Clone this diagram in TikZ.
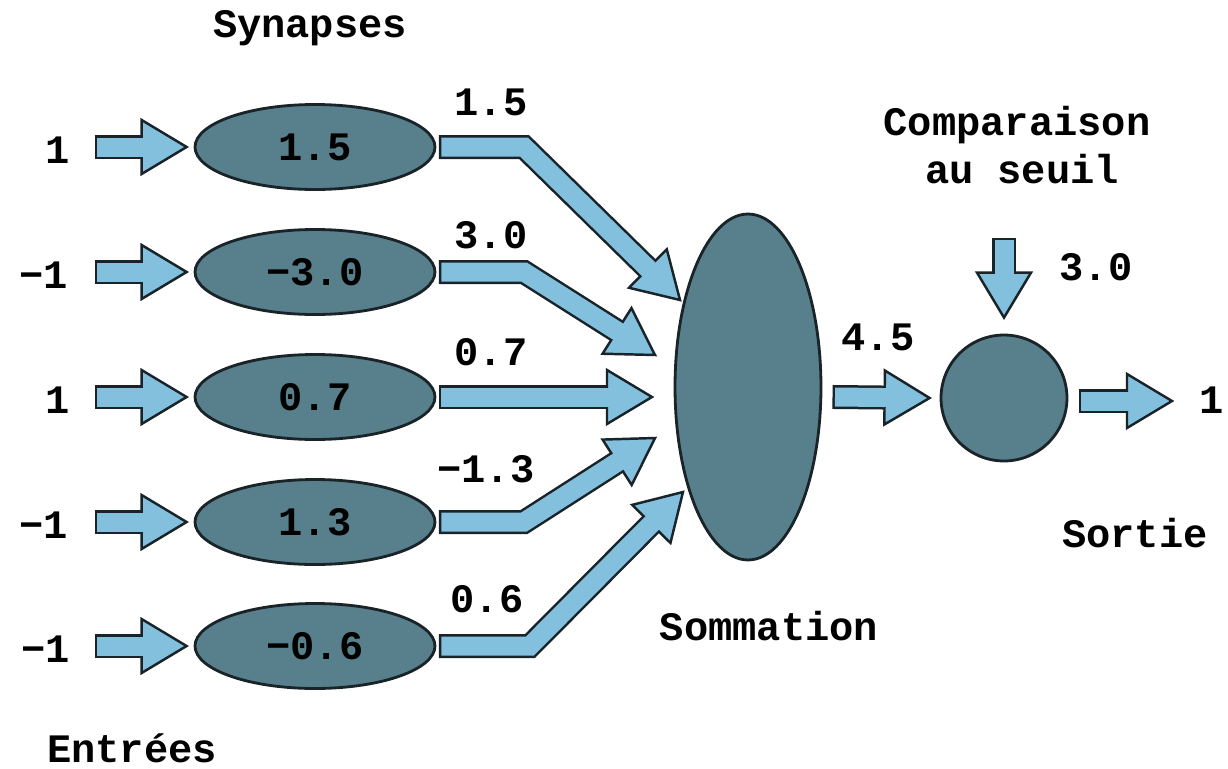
\documentclass[tikz,border=0pt]{standalone}
\usepackage{fontspec}
\usetikzlibrary{shapes.geometric,calc}
\newfontfamily\lmono{Liberation Mono}
\definecolor{nodefill}{RGB}{88,127,140}
\definecolor{edgecol}{RGB}{25,35,40}
\definecolor{arrowfill}{RGB}{130,192,222}
\newcommand{\headpart}[2]{% #1 = point the shaft comes from, #2 = tip
  \coordinate (hc) at ($(#2)!0.9cm!(#1)$);
  \coordinate (hb1) at ($(hc)!0.54cm!90:(#2)$);
  \coordinate (hb2) at ($(hc)!0.54cm!-90:(#2)$);
  \draw[fill=arrowfill, draw=edgecol, line width=1.4pt, line join=miter] (#2) -- (hb1) -- (hb2) -- cycle;
}
\newcommand{\bentarrow}[3]{% start, bend, tip
  \draw[line width=0.48cm, draw=edgecol, line join=miter] ($(#1)!-0.05cm!(#2)$) -- (#2) -- ($(#3)!0.85cm!(#2)$);
  \headpart{#2}{#3}
  \draw[line width=0.38cm, draw=arrowfill, line join=miter] (#1) -- (#2) -- ($(#3)!0.7cm!(#2)$);
}
\newcommand{\straightarrow}[2]{% start, tip
  \draw[line width=0.48cm, draw=edgecol] ($(#1)!-0.05cm!(#2)$) -- ($(#2)!0.85cm!(#1)$);
  \headpart{#1}{#2}
  \draw[line width=0.38cm, draw=arrowfill] (#1) -- ($(#2)!0.7cm!(#1)$);
}
\tikzset{
  lbl/.style={font=\lmono\bfseries\fontsize{23}{26}\selectfont, anchor=base, inner sep=0pt, text=black},
  syn/.style={ellipse, draw=edgecol, fill=nodefill, line width=1.6pt, minimum width=4.8cm, minimum height=1.7cm, inner sep=0pt, font=\lmono\bfseries\fontsize{23}{26}\selectfont},
  bigell/.style={ellipse, draw=edgecol, fill=nodefill, line width=1.6pt, minimum width=2.92cm, minimum height=6.92cm, inner sep=0pt},
  cmpnode/.style={circle, draw=edgecol, fill=nodefill, line width=1.6pt, minimum size=2.52cm, inner sep=0pt},
}
\begin{document}
\begin{tikzpicture}[x=0.02cm,y=-0.02cm]
\useasboundingbox (0,0) rectangle (1228,768);
% titles
\node[lbl] (tsyn) at (310,37) {Synapses};
\node[lbl] (tent) at (132,762) {Entrées};
\node[lbl] (tsom) at (769,640) {Sommation};
\node[lbl] (tcmp1) at (1017,135) {Comparaison};
\node[lbl] (tcmp2) at (1022,183) {au seuil};
\node[lbl] (tsor) at (1135,547) {Sortie};
% inputs
\node[lbl, anchor=base east] (in1) at (70,163) {1};
\node[lbl, anchor=base east] (in2) at (68,288) {−1};
\node[lbl, anchor=base east] (in3) at (70,413) {1};
\node[lbl, anchor=base east] (in4) at (68,538) {−1};
\node[lbl, anchor=base east] (in5) at (70,662) {−1};
% synapses
\node[syn] (s1) at (315,147) {1.5};
\node[syn] (s2) at (315,272) {−3.0};
\node[syn] (s3) at (315,397) {0.7};
\node[syn] (s4) at (315,522) {1.3};
\node[syn] (s5) at (315,646) {−0.6};
% summation and comparison
\node[bigell] (sum) at (748,387) {};
\node[cmpnode] (cmp) at (1004,398) {};
% weight labels
\node[lbl] (w1) at (491,115) {1.5};
\node[lbl] (w2) at (491,248) {3.0};
\node[lbl] (w3) at (491,365) {0.7};
\node[lbl] (w4) at (486,482) {−1.3};
\node[lbl] (w5) at (487,612) {0.6};
\node[lbl] (wsum) at (878,350) {4.5};
\node[lbl] (wthr) at (1096,280) {3.0};
\node[lbl] (outv) at (1212,413) {1};
% input arrows
\foreach \i/\r in {1/147,2/272,3/397,4/522,5/646}{
  \coordinate (ia\i) at (97,\r);
  \coordinate (it\i) at ($(s\i.west)+(-7,0)$);
  \straightarrow{ia\i}{it\i}
}
% synapse to summation arrows
\coordinate (a1) at ($(s1.east)+(5,0)$); \coordinate (b1) at (524,147); \coordinate (t1) at (680,300);
\coordinate (a2) at ($(s2.east)+(5,0)$); \coordinate (b2) at (524,272); \coordinate (t2) at (655,355);
\coordinate (a3) at ($(s3.east)+(5,0)$); \coordinate (t3) at (652,397);
\coordinate (a4) at ($(s4.east)+(5,0)$); \coordinate (b4) at (524,522); \coordinate (t4) at (655,438);
\coordinate (a5) at ($(s5.east)+(5,0)$); \coordinate (b5) at (530,646); \coordinate (t5) at (683,492);
\bentarrow{a1}{b1}{t1}
\bentarrow{a2}{b2}{t2}
\straightarrow{a3}{t3}
\bentarrow{a4}{b4}{t4}
\bentarrow{a5}{b5}{t5}
% summation to comparison
\coordinate (sa) at (835,397); \coordinate (st) at ($(cmp.west)+(-10,0)$);
\straightarrow{sa}{st}
% threshold
\coordinate (da) at (1004,240); \coordinate (dt) at ($(cmp.north)+(0,-16)$);
\straightarrow{da}{dt}
% output
\coordinate (oa) at ($(cmp.east)+(13,3)$); \coordinate (ot) at (1172,401);
\straightarrow{oa}{ot}
\end{tikzpicture}
\end{document}
